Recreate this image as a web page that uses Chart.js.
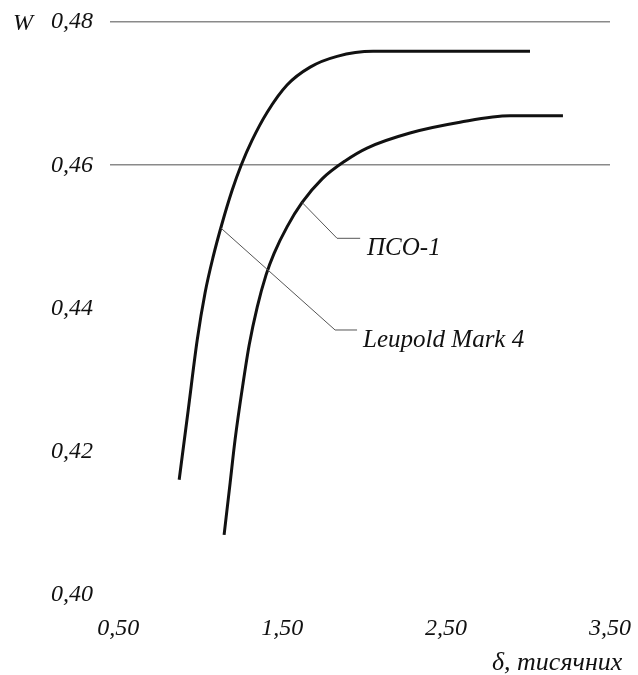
<!DOCTYPE html>
<html>
<head>
<meta charset="utf-8">
<script src="https://cdn.jsdelivr.net/npm/chart.js@4"></script>
<style>
  html, body { margin: 0; padding: 0; background: #fff; }
  #chart { display: block; }
</style>
</head>
<body>
<canvas id="chart" width="638" height="675"></canvas>
<script>
// Tick values
const xTicks = [0.5, 1.5, 2.5, 3.5];
const yTicks = [0.40, 0.42, 0.44, 0.46, 0.48];
const yGridShown = [0.46, 0.48];

// Leupold Mark 4 curve
const leupoldX = [0.872, 0.927, 0.982, 1.030, 1.079, 1.134, 1.195, 1.250, 1.317, 1.409, 1.530, 1.671, 1.835, 2.055, 3.012];
const leupoldY = [0.4161, 0.4258, 0.4356, 0.4422, 0.4472, 0.4519, 0.4565, 0.4600, 0.4635, 0.4674, 0.4712, 0.4737, 0.4752, 0.4759, 0.4759];

// ПСО-1 curve
const psoX = [1.146, 1.183, 1.213, 1.262, 1.299, 1.348, 1.402, 1.451, 1.530, 1.622, 1.744, 1.884, 2.018, 2.280, 2.585, 2.890, 3.213];
const psoY = [0.4084, 0.4157, 0.4217, 0.4296, 0.4349, 0.4402, 0.4447, 0.4477, 0.4514, 0.4548, 0.4581, 0.4606, 0.4624, 0.4645, 0.4660, 0.4669, 0.4669];

const font = '"Liberation Serif", "Times New Roman", serif';
const fmt = v => Number(v).toFixed(2).replace('.', ',');
const toPoints = (xs, ys) => xs.map((x, i) => ({ x: x, y: ys[i] }));

// Callout leaders, in data units
const callouts = [
    { text: 'ПСО-1', from: [1.622, 0.4548], elbow: [1.835, 0.4498], to: [1.976, 0.4498], at: [2.018, 0.4484] },
    { text: 'Leupold Mark 4', from: [1.128, 0.4512], elbow: [1.823, 0.4370], to: [1.957, 0.4370], at: [1.994, 0.4355] }
];

const annotate = {
    id: 'annotate',
    afterDatasetsDraw(chart) {
        const c = chart.ctx, xs = chart.scales.x, ys = chart.scales.y;
        const px = p => [xs.getPixelForValue(p[0]), ys.getPixelForValue(p[1])];
        c.save();
        c.strokeStyle = '#555';
        c.lineWidth = 1;
        c.fillStyle = '#111';
        c.font = 'italic 25px ' + font;
        c.textBaseline = 'middle';
        c.textAlign = 'left';
        callouts.forEach(k => {
            const a = px(k.from), b = px(k.elbow), e = px(k.to), t = px(k.at);
            c.beginPath();
            c.moveTo(a[0], a[1]);
            c.lineTo(b[0], b[1]);
            c.lineTo(e[0], e[1]);
            c.stroke();
            c.fillText(k.text, t[0], t[1]);
        });
        // axis names
        c.font = 'italic 24px ' + font;
        c.fillText('W', 13, 24);
        c.font = 'italic 26px ' + font;
        c.fillText('δ, тисячних', 492, 663);
        c.restore();
    }
};

new Chart(document.getElementById('chart'), {
    type: 'line',
    data: {
        datasets: [
            { label: 'Leupold Mark 4', data: toPoints(leupoldX, leupoldY) },
            { label: 'ПСО-1', data: toPoints(psoX, psoY) }
        ]
    },
    options: {
        responsive: false,
        animation: false,
        layout: { padding: { top: 22, right: 28, bottom: 0, left: 0 } },
        elements: {
            point: { radius: 0 },
            line: { borderColor: '#111', borderWidth: 3, cubicInterpolationMode: 'monotone', fill: false }
        },
        plugins: {
            legend: { display: false },
            tooltip: { enabled: false }
        },
        scales: {
            x: {
                type: 'linear',
                min: 0.45,
                max: 3.5,
                afterBuildTicks: s => { s.ticks = xTicks.map(v => ({ value: v })); },
                afterFit: s => {
                    s.height = 80;
                    s.paddingLeft = 0;
                    s.paddingRight = 0;
                },
                grid: { display: false },
                border: { display: false },
                ticks: {
                    padding: 11,
                    color: '#111',
                    font: { family: font, size: 24, style: 'italic' },
                    maxRotation: 0,
                    autoSkip: false,
                    callback: fmt
                }
            },
            y: {
                min: 0.40,
                max: 0.48,
                afterBuildTicks: s => { s.ticks = yTicks.map(v => ({ value: v })); },
                afterFit: s => {
                    s.width = 110;
                    s.paddingTop = 0;
                    s.paddingBottom = 0;
                },
                border: { display: false },
                grid: {
                    drawTicks: false,
                    lineWidth: 1.5,
                    color: ctx => yGridShown.some(v => Math.abs(v - ctx.tick.value) < 1e-6) ? '#8a8a8a' : 'rgba(0,0,0,0)'
                },
                ticks: {
                    padding: 17,
                    color: '#111',
                    font: { family: font, size: 24, style: 'italic' },
                    callback: fmt
                }
            }
        }
    },
    plugins: [annotate]
});
</script>
</body>
</html>
